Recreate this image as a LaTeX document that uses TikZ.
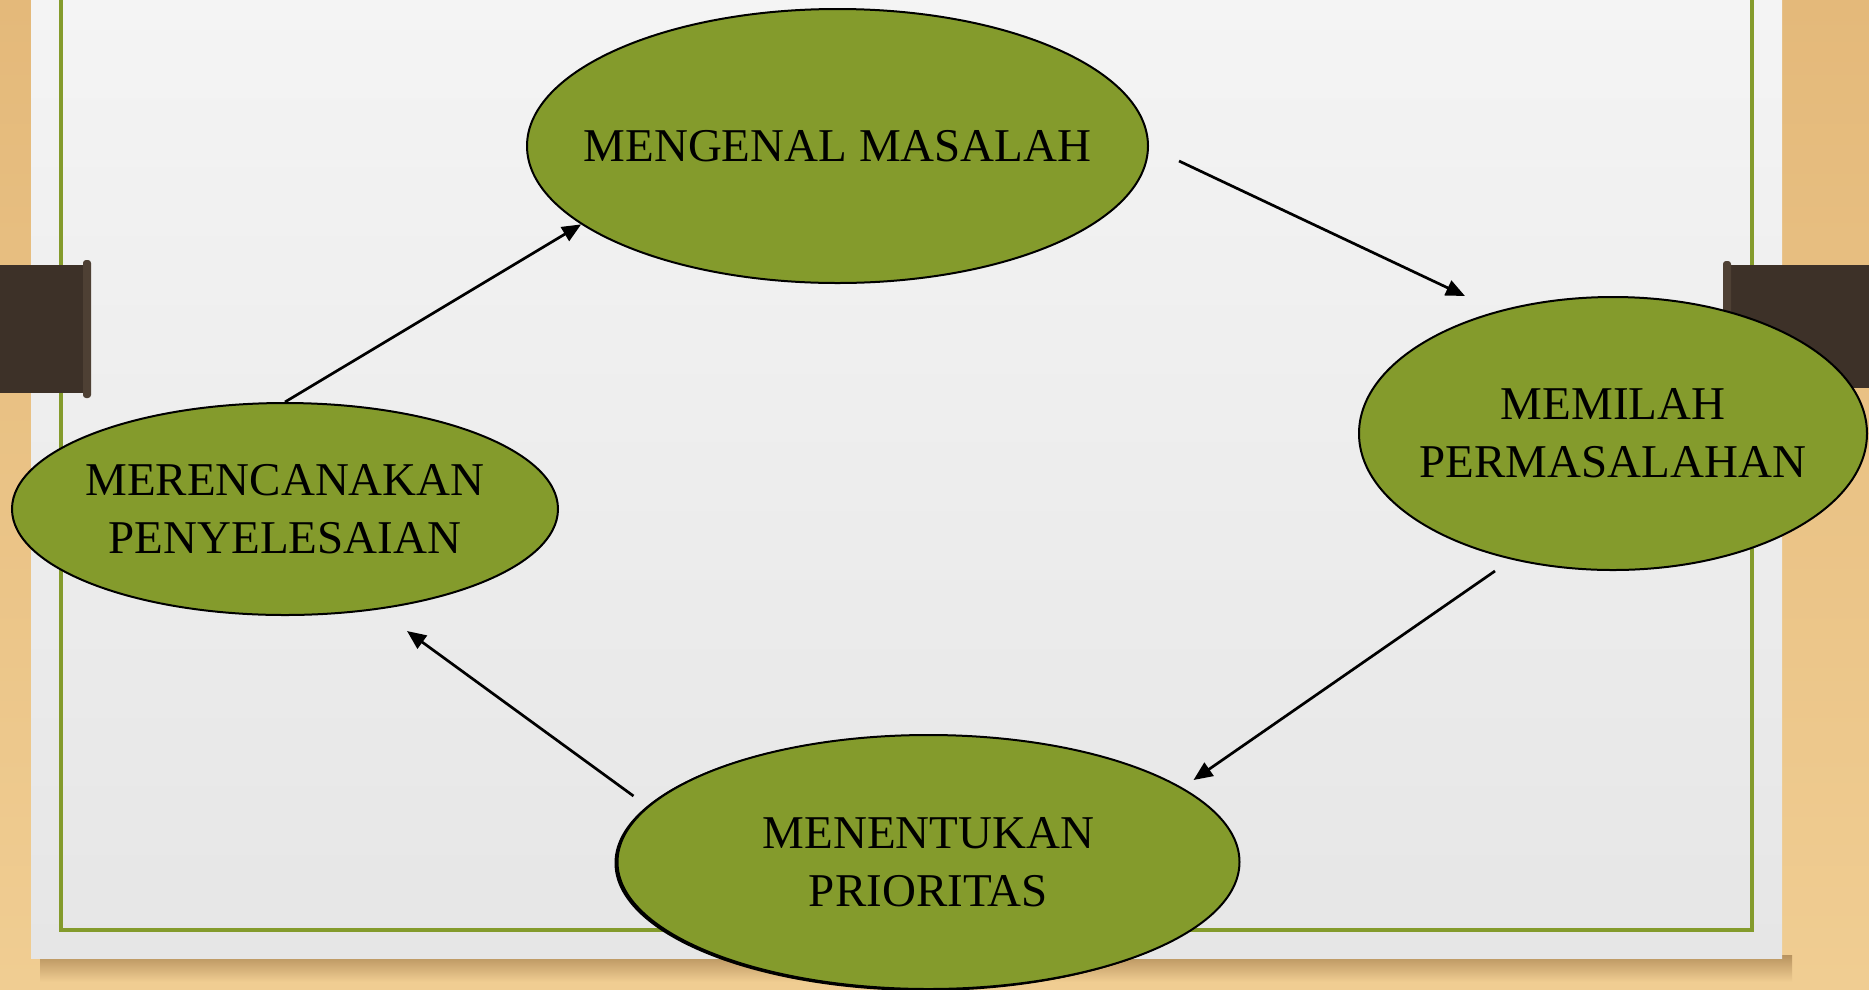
\documentclass[tikz,border=0pt]{standalone}
\usepackage{fontspec}
\setmainfont{Liberation Serif}
\usetikzlibrary{arrows.meta,shapes.geometric,calc}
\definecolor{wood}{HTML}{E4B97A}
\definecolor{woodlight}{HTML}{F0CD92}
\definecolor{wooddark}{HTML}{B8935F}
\definecolor{paper}{HTML}{F4F4F4}
\definecolor{paperdark}{HTML}{E6E6E6}
\definecolor{olive}{HTML}{849B2C}
\definecolor{tabcol}{HTML}{3D3128}
\definecolor{tabedge}{HTML}{4E4034}
\begin{document}
\begin{tikzpicture}[x=1pt,y=-1pt,
  bubble/.style={ellipse, draw=black, line width=2pt, fill=olive, inner sep=0pt},
  lbl/.style={font=\fontsize{47}{58}\selectfont, align=center, text=black},
  arr/.style={line width=2.7pt, -{Triangle[length=19pt,width=16pt]}}]
\useasboundingbox (0,0) rectangle (1869,989);
% wood background
\shade[top color=wood, bottom color=woodlight] (0,0) rectangle (1869,989);
% paper shadow
\shade[top color=wooddark, bottom color=woodlight] (40,955) rectangle (1792,982);
% paper
\shade[top color=paper, bottom color=paperdark] (31,-5) rectangle (1782,958);
% green border
\draw[olive, line width=3.5pt] (61,-10) -- (61,930) -- (1752,930) -- (1752,-10);
% tabs
\fill[tabcol] (0,265) rectangle (86,393);
\fill[tabedge, rounded corners=3pt] (83,260) rectangle (91,398);
\fill[tabcol] (1730,265) rectangle (1869,388);
\fill[tabedge, rounded corners=3pt] (1723,261) rectangle (1731,392);
% ellipses
\node[bubble, minimum width=621pt, minimum height=274pt,
  label={[lbl]center:MENGENAL MASALAH}] (e1) at (837.5,146) {};
\node[bubble, minimum width=508pt, minimum height=273pt,
  label={[lbl]center:{MEMILAH\\PERMASALAHAN}}] (e2) at (1613,433.5) {};
\fill[black] (925.5,863) ellipse [x radius=311, y radius=128];
\node[bubble, minimum width=622pt, minimum height=254pt,
  label={[lbl]center:{MENENTUKAN\\PRIORITAS}}] (e3) at (928.5,862) {};
\node[bubble, minimum width=546pt, minimum height=212pt,
  label={[lbl]center:{MERENCANAKAN\\PENYELESAIAN}}] (e4) at (285,509) {};
% arrow end points
\coordinate (a1s) at ([shift={(30,15)}]e1.east);
\coordinate (a1e) at ([shift={(-148,0)}]e2.north);
\coordinate (a2s) at ([shift={(-118,0)}]e2.south);
\coordinate (a2e) at ([shift={(265,46)}]e3.north);
\coordinate (a3s) at ([shift={(17,-66)}]e3.west);
\coordinate (a3e) at ([shift={(122,15)}]e4.south);
\coordinate (a4s) at (e4.north);
\coordinate (a4e) at (e1.197);
\draw[arr] (a1s) -- (a1e);
\draw[arr] (a2s) -- (a2e);
\draw[arr] (a3s) -- (a3e);
\draw[arr] (a4s) -- (a4e);
\end{tikzpicture}
\end{document}
